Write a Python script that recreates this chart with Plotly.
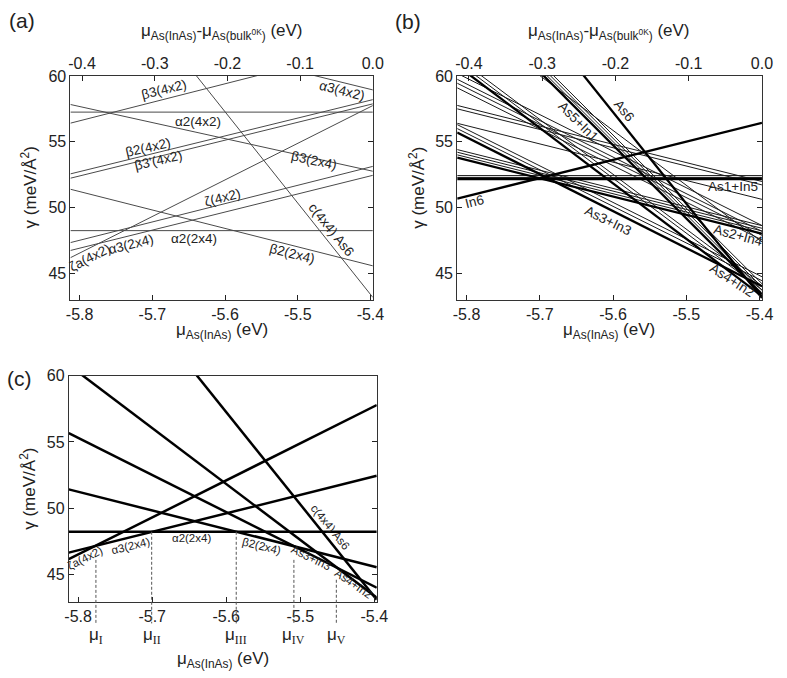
import plotly.graph_objects as go

# chemical potential of As at the left / right frame edges (eV)
MU_EDGES = [-5.8127, -5.3967]
MU_BULK = -5.3967          # mu_As(bulk, 0K): zero of the top axis
Y_RANGE_A = [42.95, 60]
Y_RANGE_C = [42.93, 60]

# ---------- panel (a): surface energy (meV/Å^2) at left and right edge ----------
A_NAMES = ["α2(4x2)", "β3(4x2)", "α3(4x2)", "β3(2x4)", "β2(4x2)", "β3'(4x2)",
           "ζ(4x2)", "α3(2x4)", "ζa(4x2)", "β2(2x4)", "α2(2x4)", "c(4x4) As6"]
A_LEFT = [57.25, 56.41, 64.60, 57.83, 52.55, 52.22, 47.32, 46.72, 46.17, 51.38, 48.23, 72.06]
A_RIGHT = [57.25, 62.27, 58.94, 52.75, 58.20, 57.88, 53.12, 52.44, 57.75, 45.55, 48.23, 43.15]

# ---------- panel (b): c(4x4) As_n+In_(6-n) configurations ----------
B_GROUP = ["In6", "As1+In5", "As2+In4", "As3+In3", "As4+In2", "As5+In1", "As6",
           "As1+In5", "As1+In5",
           "As2+In4", "As2+In4", "As2+In4", "As2+In4", "As2+In4", "As2+In4",
           "As3+In3", "As3+In3", "As3+In3", "As3+In3", "As3+In3", "As3+In3",
           "As4+In2", "As4+In2", "As4+In2",
           "As5+In1", "As5+In1", "As5+In1"]
B_LEFT = [50.67, 52.16, 53.78, 55.70, 60.80, 66.60, 72.05,
          52.28, 52.42,
          54.00, 54.20, 54.40, 56.40, 57.50, 57.76,
          56.00, 56.30, 59.10, 59.45, 59.75, 60.20,
          61.10, 61.40, 64.74,
          66.85, 67.10, 67.35]
B_RIGHT = [56.44, 52.16, 48.00, 44.00, 43.25, 43.40, 43.10,
           52.28, 52.42,
           48.21, 48.41, 48.61, 50.61, 51.71, 51.97,
           44.42, 44.72, 47.52, 47.87, 48.17, 48.62,
           43.73, 44.03, 47.37,
           43.69, 43.94, 44.19]
B_LOWEST = [True] * 7 + [False] * 20

# ---------- panel (c): lowest-energy structures ----------
C_NAMES = ["ζa(4x2)", "α3(2x4)", "α2(2x4)", "β2(2x4)", "c(4x4) As6", "As3+In3", "As4+In2"]
C_LEFT = [46.15, 46.65, 48.22, 51.42, 72.05, 55.67, 60.80]
C_RIGHT = [57.78, 52.44, 48.22, 45.55, 43.10, 44.00, 43.25]

MU_POINTS = [-5.776, -5.7007, -5.5865, -5.5086, -5.4513]
MU_LABELS = ["I", "II", "III", "IV", "V"]
MU_DASH_TOP = [46.10, 48.22, 48.22, 46.10, 44.60]

BOTTOM_TICKS = [-5.8, -5.7, -5.6, -5.5, -5.4]
BOTTOM_TEXT = ["-5.8", "-5.7", "-5.6", "-5.5", "-5.4"]
TOP_TICKS = [-0.4, -0.3, -0.2, -0.1, 0.0]
TOP_TEXT = ["-0.4", "-0.3", "-0.2", "-0.1", "0.0"]
Y_TICKS = [45, 50, 55, 60]

FONT = "Liberation Sans, Arial, sans-serif"
W, H = 787, 678

fig = go.Figure()

def add_line(xa, ya, y0, y1, color, width, name):
    fig.add_trace(go.Scatter(x=MU_EDGES, y=[y0, y1], mode="lines",
                             line=dict(color=color, width=width),
                             xaxis=xa, yaxis=ya, name=name,
                             showlegend=False, hoverinfo="name"))

for n, l, r in zip(A_NAMES, A_LEFT, A_RIGHT):
    add_line("x", "y", l, r, "#4a4a4a", 1.0, n)

order = [i for i in range(len(B_GROUP)) if not B_LOWEST[i]] + \
        [i for i in range(len(B_GROUP)) if B_LOWEST[i]]
for i in order:
    if B_LOWEST[i]:
        add_line("x3", "y2", B_LEFT[i], B_RIGHT[i], "#000000", 2.3, B_GROUP[i])
    else:
        add_line("x3", "y2", B_LEFT[i], B_RIGHT[i], "#1a1a1a", 1.0, B_GROUP[i])

for n, l, r in zip(C_NAMES, C_LEFT, C_RIGHT):
    add_line("x5", "y3", l, r, "#000000", 2.5, n)

# invisible traces so the top axes exist
for xa, ya in (("x2", "y"), ("x4", "y2")):
    fig.add_trace(go.Scatter(x=[m - MU_BULK for m in MU_EDGES], y=[50, 50],
                             mode="markers", marker=dict(opacity=0),
                             xaxis=xa, yaxis=ya, showlegend=False, hoverinfo="skip"))

axis_common = dict(showgrid=False, zeroline=False, ticks="inside", ticklen=5,
                   tickwidth=1, tickcolor="#222", showline=True, linecolor="#333",
                   linewidth=1, tickfont=dict(family=FONT, size=16, color="#222"))

dom_a_x = [67.7 / W, 376 / W]
dom_b_x = [462 / W, 772.7 / W]
dom_c_x = [66 / W, 380 / W]
dom_ab_y = [1 - 295.5 / H, 1 - 68.8 / H]
dom_c_y = [1 - 601 / H, 1 - 372 / H]
top_range = [m - MU_BULK for m in MU_EDGES]

fig.update_layout(
    width=W, height=H, autosize=False,
    margin=dict(l=0, r=0, t=0, b=0),
    paper_bgcolor="white", plot_bgcolor="white",
    font=dict(family=FONT, color="#222"),
    xaxis=dict(domain=dom_a_x, range=MU_EDGES, anchor="y", mirror=True,
               tickvals=BOTTOM_TICKS, ticktext=BOTTOM_TEXT, **axis_common),
    xaxis2=dict(overlaying="x", side="top", anchor="y", range=top_range,
                tickvals=TOP_TICKS, ticktext=TOP_TEXT, **axis_common),
    yaxis=dict(domain=dom_ab_y, range=Y_RANGE_A, anchor="x", mirror="ticks",
               tickvals=Y_TICKS, **axis_common),
    xaxis3=dict(domain=dom_b_x, range=MU_EDGES, anchor="y2", mirror=True,
                tickvals=BOTTOM_TICKS, ticktext=BOTTOM_TEXT, **axis_common),
    xaxis4=dict(overlaying="x3", side="top", anchor="y2", range=top_range,
                tickvals=TOP_TICKS, ticktext=TOP_TEXT, **axis_common),
    yaxis2=dict(domain=dom_ab_y, range=Y_RANGE_A, anchor="x3", mirror="ticks",
                tickvals=Y_TICKS, **axis_common),
    xaxis5=dict(domain=dom_c_x, range=MU_EDGES, anchor="y3", mirror=True,
                tickvals=BOTTOM_TICKS, ticktext=BOTTOM_TEXT, **axis_common),
    yaxis3=dict(domain=dom_c_y, range=Y_RANGE_C, anchor="x5", mirror="ticks",
                tickvals=Y_TICKS, **axis_common),
)

ann = []

def label(xa, ya, text, x, y, ang, size):
    ann.append(dict(xref=xa, yref=ya, x=x, y=y, text=text, textangle=ang,
                    showarrow=False, font=dict(family=FONT, size=size, color="#222"),
                    xanchor="center", yanchor="middle"))

# panel (a) curve labels
A_LABELS = [("β3(4x2)", -5.684, 58.96, -14), ("α3(4x2)", -5.4397, 58.89, 14),
            ("α2(4x2)", -5.6368, 56.54, 0), ("β2(4x2)", -5.7056, 54.57, -13),
            ("β3'(4x2)", -5.692, 53.58, -13), ("β3(2x4)", -5.4775, 53.58, 12),
            ("ζ(4x2)", -5.603, 50.78, -14), ("α2(2x4)", -5.6433, 47.60, 0),
            ("β2(2x4)", -5.5084, 46.46, 14), ("c(4x4) As6", -5.4544, 48.28, 51),
            ("ζa(4x2)", -5.7852, 46.16, -27), ("α3(2x4)", -5.730, 47.14, -14)]
for t, x, y, a in A_LABELS:
    label("x", "y", t, x, y, a, 13.5)

B_LABELS = [("As6", -5.5847, 57.41, 51), ("As5+In1", -5.6477, 56.51, 45),
            ("In6", -5.7885, 50.47, -14), ("As1+In5", -5.4358, 51.59, 0),
            ("As3+In3", -5.6074, 48.98, 26), ("As2+In4", -5.4291, 47.86, 15),
            ("As4+In2", -5.4372, 44.42, 33)]
for t, x, y, a in B_LABELS:
    label("x3", "y2", t, x, y, a, 13.5)

C_LABELS = [("ζa(4x2)", -5.7907, 46.27, -27), ("α3(2x4)", -5.7298, 47.16, -14),
            ("α2(2x4)", -5.6463, 47.76, 0), ("β2(2x4)", -5.5523, 47.16, 14),
            ("c(4x4) As6", -5.4596, 48.58, 51), ("As3+In3", -5.4847, 46.27, 26),
            ("As4+In2", -5.4278, 44.25, 35)]
for t, x, y, a in C_LABELS:
    label("x5", "y3", t, x, y, a, 11.5)

# mu points in (c)
shapes = []
span = Y_RANGE_C[1] - Y_RANGE_C[0]
for m, lab, top in zip(MU_POINTS, MU_LABELS, MU_DASH_TOP):
    shapes.append(dict(type="line", xref="x5", yref="y3 domain", x0=m, x1=m,
                       y0=(top - Y_RANGE_C[0]) / span, y1=-0.095,
                       line=dict(color="#555", width=1, dash="3px,2px")))
    ann.append(dict(xref="x5", yref="y3 domain", x=m, y=-0.15, showarrow=False,
                    text="μ<sub><span style='font-family:Liberation Serif'>" + lab + "</span></sub>",
                    font=dict(family=FONT, size=17, color="#222"),
                    xanchor="center", yanchor="middle"))

# axis titles
top_title = "μ<sub>As(InAs)</sub>-μ<sub>As(bulk<sup>0K</sup>)</sub> (eV)"
bot_title = "μ<sub>As(InAs)</sub> (eV)"
ytitle = "γ (meV/Å<sup>2</sup>)"
def ptext(text, px, py, size, ang=0):
    ann.append(dict(xref="paper", yref="paper", x=px / W, y=1 - py / H, text=text,
                    textangle=ang, showarrow=False,
                    font=dict(family=FONT, size=size, color="#222"),
                    xanchor="center", yanchor="middle"))

ptext(top_title, 222, 24, 17)
ptext(top_title, 617, 24, 17)
ptext(bot_title, 222, 327, 17)
ptext(bot_title, 617, 327, 17)
ptext(bot_title, 223, 660, 17)
ptext(ytitle, 25, 182, 17, -90)
ptext(ytitle, 421, 182, 17, -90)
ptext(ytitle, 25, 487, 17, -90)
ptext("(a)", 18, 13, 21)
ptext("(b)", 412, 14, 21)
ptext("(c)", 16, 375, 21)

fig.update_layout(annotations=ann, shapes=shapes)
fig.write_html("out.html", config={"displayModeBar": False},
               post_script="document.body.style.margin='0px';")
